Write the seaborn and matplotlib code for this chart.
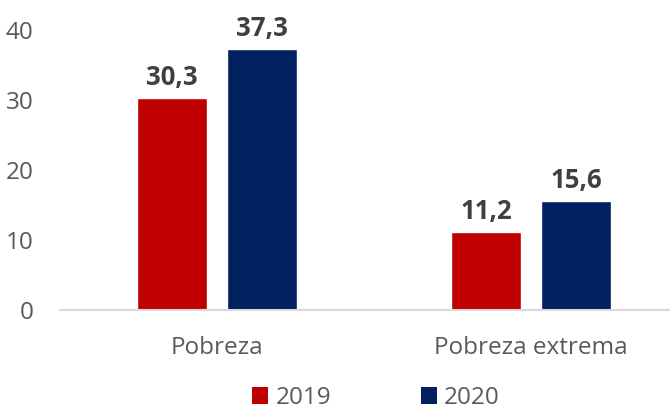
import matplotlib
matplotlib.use("Agg")
import matplotlib.pyplot as plt
import seaborn as sns
import pandas as pd
from matplotlib.patches import Patch

categories = ["Pobreza", "Pobreza extrema"]
years = ["2019", "2020"]
values_2019 = [30.3, 11.2]
values_2020 = [37.3, 15.6]
colors = ["#C00000", "#002060"]
yticks = [0, 10, 20, 30, 40]

df = pd.DataFrame({
    "cat": categories * 2,
    "year": [years[0]] * 2 + [years[1]] * 2,
    "val": values_2019 + values_2020,
})

sns.set_theme(style="white")
plt.rcParams["font.family"] = ["Open Sans", "DejaVu Sans"]

fig = plt.figure(figsize=(6.7, 4.11), dpi=100)
ax = fig.add_axes([60/670, 101/411, 628/670, 280/411])
sns.barplot(data=df, x="cat", y="val", hue="year", palette=colors,
            width=0.573, gap=0.222, ax=ax, legend=False, saturation=1)

ax.set_ylim(0, 40)
ax.set_xlim(-0.5, 1.5)
ax.set_yticks(yticks)
ax.set_yticklabels([str(t) for t in yticks])
ax.set_xlabel("")
ax.set_ylabel("")
for s in ["top", "right", "left"]:
    ax.spines[s].set_visible(False)
ax.spines["bottom"].set_color("#D9D9D9")
ax.spines["bottom"].set_linewidth(1.5)
ax.tick_params(axis="y", length=0, pad=19, labelsize=17.5, labelcolor="#595959")
ax.tick_params(axis="x", length=0, pad=19, labelsize=17.5, labelcolor="#595959")

for cont in ax.containers:
    labels = [f"{v:.1f}".replace(".", ",") for v in cont.datavalues]
    ax.bar_label(cont, labels=labels, padding=5, fontsize=18.5,
                 fontweight="bold", color="#404040", clip_on=False)

handles = [Patch(facecolor=c, edgecolor="none") for c in colors]
fig.legend(handles, years, loc="center", bbox_to_anchor=(376/670, 1 - 398/411),
           ncol=2, frameon=False, fontsize=17.5, labelcolor="#595959",
           handlelength=0.65, handleheight=0.65, handletextpad=0.3,
           columnspacing=3.7, borderaxespad=0, borderpad=0)

fig.savefig("out.png", dpi=100)
